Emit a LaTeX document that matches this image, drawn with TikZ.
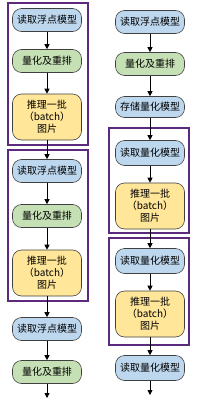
\documentclass[tikz,border=0pt]{standalone}
\usepackage{fontspec}
\newfontfamily\cjk{Noto Sans CJK SC}
\usepackage{tikz}
\usetikzlibrary{positioning}
\usetikzlibrary{shapes,arrows,calc,arrows.meta}

\definecolor{loadblue}{HTML}{BDD7EE}
\definecolor{quantgreen}{HTML}{C5E0B4}
\definecolor{inferyellow}{HTML}{FFE699}
\definecolor{framepurple}{HTML}{5B2A7E}
\definecolor{edgegray}{HTML}{404040}

\begin{document}
\begin{tikzpicture}[x=1pt,y=-1pt,>={Triangle[width=5pt,length=5pt]},
  step node/.style={draw=edgegray,line width=.6pt,rounded corners=9pt,minimum width=69pt,
    minimum height=23pt,inner sep=1pt,align=center,font=\cjk\fontsize{10}{12}\selectfont},
  load node/.style={step node,fill=loadblue},
  quant node/.style={step node,fill=quantgreen},
  infer node/.style={step node,fill=inferyellow,minimum height=46pt},
  frame/.style={draw=framepurple,line width=2.6pt}]
\useasboundingbox (0,0) rectangle (205,407);
% left column
\node[load node] at (47,20) (Lone) {读取浮点模型};
\node[quant node] at (47,61) (Ltwo) {量化及重排};
\node[infer node] at (47,117) (Lthree) {推理一批\\（batch）\\图片};
\node[load node] at (47,171) (Lfour) {读取浮点模型};
\node[quant node] at (47,216) (Lfive) {量化及重排};
\node[infer node] at (47,273) (Lsix) {推理一批\\（batch）\\图片};
\node[load node] at (47,329) (Lseven) {读取浮点模型};
\node[quant node] at (47,372) (Leight) {量化及重排};
\coordinate (Lend) at (47,398);
% right column
\node[load node] at (150,22) (Rone) {读取浮点模型};
\node[quant node] at (150,64) (Rtwo) {量化及重排};
\node[load node,minimum height=21pt] at (150,107) (Rthree) {存储量化模型};
\node[load node,minimum height=25pt] at (150,153) (Rfour) {读取量化模型};
\node[infer node] at (150,206) (Rfive) {推理一批\\（batch）\\图片};
\node[load node,minimum height=25pt] at (150,261) (Rsix) {读取量化模型};
\node[infer node] at (150,314) (Rseven) {推理一批\\（batch）\\图片};
\node[load node,minimum height=25pt] at (150,368) (Reight) {读取量化模型};
\coordinate (Rend) at (150,395);
% frames
\draw[frame] (8,3) rectangle (88,145);
\draw[frame] (8,150) rectangle (88,301);
\draw[frame] (109,128) rectangle (189,233);
\draw[frame] (109,238) rectangle (189,345);
% arrows
\draw[->, line width=.8] (Lone) -- (Ltwo);
\draw[->, line width=.8] (Ltwo) -- (Lthree);
\draw[->, line width=.8] (Lthree) -- (Lfour);
\draw[->, line width=.8] (Lfour) -- (Lfive);
\draw[->, line width=.8] (Lfive) -- (Lsix);
\draw[->, line width=.8] (Lsix) -- (Lseven);
\draw[->, line width=.8] (Lseven) -- (Leight);
\draw[->, line width=.8] (Leight) -- (Lend);
\draw[->, line width=.8] (Rone) -- (Rtwo);
\draw[->, line width=.8] (Rtwo) -- (Rthree);
\draw[->, line width=.8] (Rthree) -- (Rfour);
\draw[->, line width=.8] (Rfour) -- (Rfive);
\draw[->, line width=.8] (Rfive) -- (Rsix);
\draw[->, line width=.8] (Rsix) -- (Rseven);
\draw[->, line width=.8] (Rseven) -- (Reight);
\draw[->, line width=.8] (Reight) -- (Rend);
\end{tikzpicture}
\end{document}
